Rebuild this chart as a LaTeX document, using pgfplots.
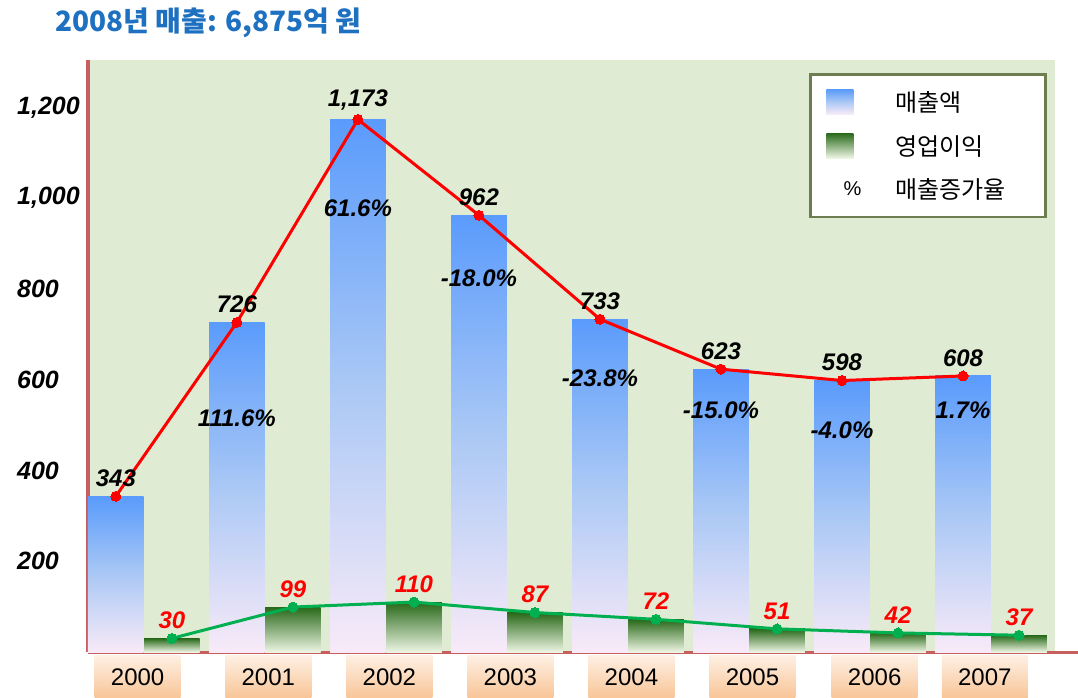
\documentclass[border=0pt]{standalone}
\usepackage{pgfplots}
\pgfplotsset{compat=1.18}
\usepackage{fontspec}
\setmainfont{Liberation Sans}
\newfontfamily\kr{Noto Sans CJK KR}
\definecolor{bgreen}{RGB}{224,235,211}
\definecolor{axred}{RGB}{200,95,95}
\definecolor{blutop}{RGB}{90,155,252}
\definecolor{blumid}{RGB}{170,200,245}
\definecolor{blubot}{RGB}{248,234,248}
\definecolor{grtop}{RGB}{40,105,25}
\definecolor{grbot}{RGB}{238,245,228}
\definecolor{lred}{RGB}{255,0,0}
\definecolor{lgreen}{RGB}{0,176,80}
\definecolor{ttl}{RGB}{30,112,192}
\definecolor{orgtop}{RGB}{254,240,228}
\definecolor{orgbot}{RGB}{248,196,148}
\definecolor{lgdborder}{RGB}{110,125,80}

\begin{document}
\begin{tikzpicture}
\useasboundingbox (0,0) rectangle (1078pt,-698pt);
\node[anchor=west, inner sep=0pt, text=ttl, font=\kr\bfseries\fontsize{28}{28}\selectfont] at (55pt,-23pt) {2008년 매출: 6,875억 원};
\begin{axis}[
  at={(88pt,-652pt)}, anchor=south west,
  scale only axis, width=967pt, height=592pt,
  xmin=-0.23, xmax=7.76, ymin=0, ymax=1304,
  clip=false,
  axis background/.style={fill=bgreen},
  axis x line*=bottom, axis y line*=left,
  axis line style={draw=axred, line width=3pt, -},
  x axis line style={shorten >=-23pt},
  major tick length=0pt,
  tick style={draw=none},
  /pgf/number format/assume math mode=true,
  /pgf/number format/1000 sep={,},
  scaled y ticks=false,
  ytick={200,400,600,800,1000,1200},
  yticklabel style={anchor=west, xshift=-71pt, inner sep=0pt, font=\bfseries\itshape\fontsize{25}{25}\selectfont},
  xtick={0.18,1.26,2.26,3.26,4.26,5.26,6.27,7.18},
  xticklabels={2000,2001,2002,2003,2004,2005,2006,2007},
  xticklabel style={anchor=north, yshift=-3pt, minimum width=86pt, minimum height=44pt, inner sep=0pt, top color=orgtop, bottom color=orgbot, font=\fontsize{24}{24}\selectfont, text=black},
  legend style={at={(rel axis cs:0.9917,0.978)}, anchor=north east, draw=lgdborder, line width=2.5pt, fill=white,
    inner xsep=16pt, inner ysep=15pt, row sep=18pt,
    font=\kr\fontsize{24}{24}\selectfont, legend cell align=left,
    /tikz/every odd column/.append style={column sep=32pt}},
  bluebar/.style={ybar, bar width=0.46, bar shift=0pt, draw=none, top color=blutop, bottom color=blubot, middle color=blumid, forget plot},
  greenbar/.style={ybar, bar width=0.46, bar shift=0pt, draw=none, top color=grtop, bottom color=grbot, forget plot},
]
% revenue bars (one path per bar so each bar gets its own gradient)
\addplot[bluebar] coordinates {(0,343)};
\addplot[bluebar] coordinates {(1,726)};
\addplot[bluebar] coordinates {(2,1173)};
\addplot[bluebar] coordinates {(3,962)};
\addplot[bluebar] coordinates {(4,733)};
\addplot[bluebar] coordinates {(5,623)};
\addplot[bluebar] coordinates {(6,598)};
\addplot[bluebar] coordinates {(7,608)};
% operating profit bars
\addplot[greenbar] coordinates {(0.463,30)};
\addplot[greenbar] coordinates {(1.463,99)};
\addplot[greenbar] coordinates {(2.463,110)};
\addplot[greenbar] coordinates {(3.463,87)};
\addplot[greenbar] coordinates {(4.463,72)};
\addplot[greenbar] coordinates {(5.463,51)};
\addplot[greenbar] coordinates {(6.463,42)};
\addplot[greenbar] coordinates {(7.463,37)};
\addplot[lred, line width=3pt, mark=*, mark size=5pt, mark options={fill=lred, draw=lred, line width=0pt}, forget plot,
  nodes near coords, nodes near coords style={font=\bfseries\itshape\fontsize{24}{24}\selectfont, text=black, anchor=south, yshift=6pt}]
  coordinates {(0,343) (1,726) (2,1173) (3,962) (4,733) (5,623) (6,598) (7,608)};
\addplot[lgreen, line width=3pt, mark=*, mark size=5pt, mark options={fill=lgreen, draw=lgreen, line width=0pt}, forget plot,
  nodes near coords, nodes near coords style={font=\bfseries\itshape\fontsize{24}{24}\selectfont, text=lred, anchor=south, yshift=6pt}]
  coordinates {(0.463,30) (1.463,99) (2.463,110) (3.463,87) (4.463,72) (5.463,51) (6.463,42) (7.463,37)};
\tikzset{pct/.style={font=\bfseries\itshape\fontsize{24}{24}\selectfont, text=black}}
\node[pct] at (axis cs:1,515) {111.6\%};
\node[pct] at (axis cs:2,978) {61.6\%};
\node[pct] at (axis cs:3,824) {-18.0\%};
\node[pct] at (axis cs:4,604) {-23.8\%};
\node[pct] at (axis cs:5,533) {-15.0\%};
\node[pct] at (axis cs:6,489) {-4.0\%};
\node[pct] at (axis cs:7,533) {1.7\%};
\addlegendimage{legend image code/.code={\shade[draw=none,top color=blutop,bottom color=blubot,middle color=blumid] (0pt,-12pt) rectangle (27pt,13pt);}}
\addlegendentry{매출액}
\addlegendimage{legend image code/.code={\shade[draw=none,top color=grtop,bottom color=grbot] (0pt,-12pt) rectangle (27pt,13pt);}}
\addlegendentry{영업이익}
\addlegendimage{legend image code/.code={\node[font=\rmfamily\fontsize{20}{20}\selectfont, inner sep=0pt] at (16pt,0pt) {\%};}}
\addlegendentry{매출증가율\hspace*{22pt}}
\end{axis}
\end{tikzpicture}
\end{document}
